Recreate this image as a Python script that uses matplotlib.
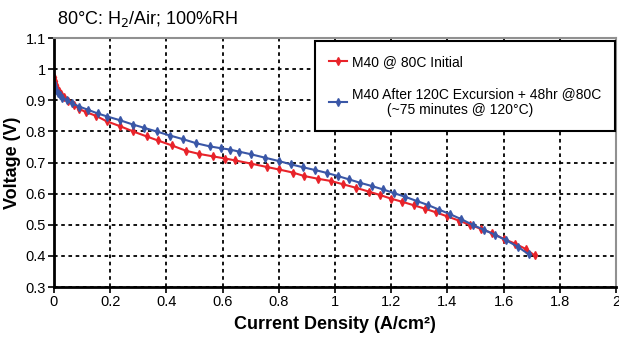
import matplotlib.pyplot as plt
import numpy as np

# Polarization data
red_x = [0.000, 0.004, 0.008, 0.012, 0.018, 0.025, 0.035, 0.050, 0.070, 0.090,
         0.115, 0.150, 0.187, 0.235, 0.282, 0.330, 0.370, 0.420, 0.470, 0.516,
         0.566, 0.610, 0.645, 0.700, 0.757, 0.800, 0.850, 0.890, 0.940, 0.985,
         1.030, 1.075, 1.120, 1.160, 1.200, 1.240, 1.280, 1.320, 1.360, 1.400,
         1.440, 1.480, 1.520, 1.560, 1.600, 1.640, 1.680, 1.710]
red_v = [0.975, 0.962, 0.950, 0.940, 0.930, 0.920, 0.910, 0.898, 0.885, 0.872,
         0.862, 0.850, 0.833, 0.817, 0.800, 0.784, 0.771, 0.755, 0.738, 0.728,
         0.720, 0.713, 0.707, 0.697, 0.686, 0.678, 0.668, 0.657, 0.648, 0.641,
         0.630, 0.619, 0.607, 0.596, 0.584, 0.574, 0.563, 0.552, 0.540, 0.527,
         0.514, 0.500, 0.487, 0.473, 0.455, 0.440, 0.422, 0.402]

blue_x = [0.000, 0.004, 0.008, 0.013, 0.020, 0.030, 0.045, 0.065, 0.090, 0.120,
          0.155, 0.190, 0.235, 0.282, 0.320, 0.365, 0.413, 0.460, 0.507, 0.555,
          0.595, 0.626, 0.660, 0.700, 0.750, 0.800, 0.845, 0.886, 0.930, 0.970,
          1.010, 1.050, 1.090, 1.130, 1.170, 1.210, 1.250, 1.290, 1.330, 1.370,
          1.410, 1.450, 1.490, 1.530, 1.570, 1.610, 1.650, 1.690]
blue_v = [0.955, 0.942, 0.932, 0.924, 0.916, 0.908, 0.900, 0.890, 0.880, 0.870,
          0.858, 0.848, 0.836, 0.822, 0.812, 0.800, 0.787, 0.775, 0.762, 0.752,
          0.746, 0.742, 0.735, 0.727, 0.716, 0.705, 0.694, 0.685, 0.676, 0.667,
          0.657, 0.646, 0.635, 0.625, 0.614, 0.602, 0.590, 0.577, 0.564, 0.549,
          0.534, 0.518, 0.500, 0.484, 0.468, 0.450, 0.430, 0.405]

red_label = "M40 @ 80C Initial"
blue_label = "M40 After 120C Excursion + 48hr @80C\n         (~75 minutes @ 120°C)"

plt.rcParams['font.family'] = ['Liberation Sans', 'DejaVu Sans']

fig = plt.figure(figsize=(6.19, 3.37), dpi=100)
ax = fig.add_axes([0.0872, 0.148, 0.908, 0.739])

ax.plot(red_x, red_v, color='#E8232A', lw=1.5, marker='d', ms=4, label=red_label)
ax.plot(blue_x, blue_v, color='#3A57A7', lw=1.5, marker='d', ms=4, label=blue_label)

ax.set_xlim(0, 2)
ax.set_ylim(0.3, 1.1)
ax.set_xticks(np.arange(0, 2.01, 0.2))
ax.set_xticklabels(['0', '0.2', '0.4', '0.6', '0.8', '1', '1.2', '1.4', '1.6', '1.8', '2'])
ax.set_yticks(np.arange(0.3, 1.101, 0.1))
ax.set_yticklabels(['0.3', '0.4', '0.5', '0.6', '0.7', '0.8', '0.9', '1', '1.1'])
ax.tick_params(labelsize=10.5, length=4, width=1.2, direction='out', pad=2)

ax.grid(True, color='black', linestyle=(0, (2, 2)), linewidth=1.3)

for s in ['left', 'bottom']:
    ax.spines[s].set_linewidth(2)
    ax.spines[s].set_color('black')
for s in ['top', 'right']:
    ax.spines[s].set_linewidth(1.5)
    ax.spines[s].set_color('#909090')

ax.set_xlabel("Current Density (A/cm²)", fontsize=13, fontweight='bold', labelpad=5)
ax.set_ylabel("Voltage (V)", fontsize=13, fontweight='bold', labelpad=3)

fig.text(0.092, 0.945, "80°C: H$_2$/Air; 100%RH", fontsize=13, va='center', ha='left')

leg = ax.legend(loc='upper right', fontsize=10, frameon=True, fancybox=False,
                handlelength=1.3, handletextpad=0.3, borderpad=1.0, labelspacing=1.3,
                bbox_to_anchor=(1.01, 1.017))
leg.get_frame().set_edgecolor('black')
leg.get_frame().set_linewidth(1.5)
leg.get_frame().set_alpha(1)

fig.savefig('out.png', dpi=100)
